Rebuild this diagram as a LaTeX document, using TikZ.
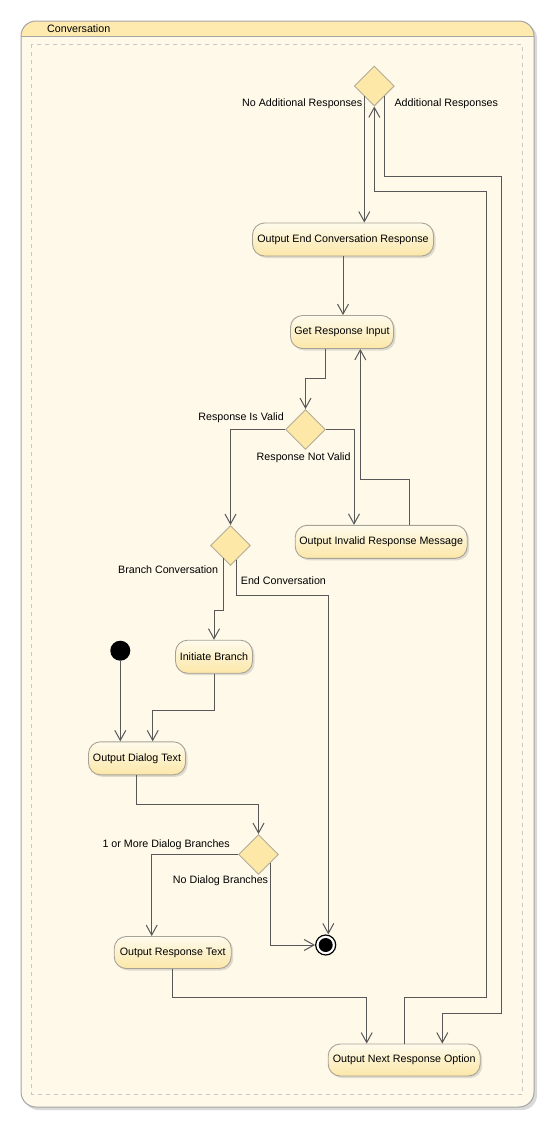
\documentclass[tikz,border=0pt]{standalone}
\usepackage{fontspec}
\setmainfont{Liberation Sans}
\usetikzlibrary{arrows.meta,shapes.geometric,shadows,calc}
\definecolor{lc}{HTML}{585858}
\definecolor{framebody}{HTML}{FEF9E9}
\definecolor{framehead}{HTML}{FEEAAE}
\definecolor{frameborder}{HTML}{A4A4A4}
\definecolor{dashline}{HTML}{C8C8C8}
\definecolor{nodetop}{HTML}{FEFBEC}
\definecolor{nodebot}{HTML}{FCE7A8}
\definecolor{nodeborder}{HTML}{A8A296}
\definecolor{decfill}{HTML}{FEE8A8}
\definecolor{decborder}{HTML}{B2AC98}
\tikzset{
  act/.style={rectangle, rounded corners=12pt, draw=nodeborder, line width=0.9pt,
    top color=nodetop, bottom color=nodebot, minimum height=33pt, inner sep=0pt,
    drop shadow={shadow xshift=2pt, shadow yshift=-2pt, opacity=0.25}},
  dec/.style={diamond, draw=decborder, fill=decfill, line width=0.9pt, minimum width=40pt,
    minimum height=40pt, inner sep=0pt, shape aspect=1},
  lbl/.style={inner sep=0pt, text=black},
  flow/.style={draw=lc, line width=1pt, -{Straight Barb[length=10pt,width=11pt]}},
}
\begin{document}
\begin{tikzpicture}[x=1pt,y=-1pt, font=\fontsize{10.7}{12}\selectfont]
\useasboundingbox (0,0) rectangle (556,1128);
% frame
\fill[black, opacity=0.15, rounded corners=15pt] (23.5,23.5) rectangle (537,1110);
\fill[framebody, rounded corners=15pt] (21,21) rectangle (534,1107);
\begin{scope}
  \clip[rounded corners=15pt] (21,21) rectangle (534,1107);
  \fill[framehead] (21,21) rectangle (534,36.7);
\end{scope}
\draw[frameborder, line width=1pt] (21,36.7) -- (534,36.7);
\draw[frameborder, line width=1pt, rounded corners=15pt] (21,21) rectangle (534,1107);
\draw[dashline, line width=0.8pt, dash pattern=on 4pt off 4pt] (31.5,44.3) rectangle (522.7,1094);
\node[lbl, anchor=west] (title) at (47,28.7) {Conversation};

% activities
\node[act, minimum width=181pt] (oecr) at (343,239.5) {Output End Conversation Response};
\node[act, minimum width=103pt] (gri) at (342,332) {Get Response Input};
\node[act, minimum width=172pt] (oirm) at (381.2,541.8) {Output Invalid Response Message};
\node[act, minimum width=77pt] (ib) at (214,656.7) {Initiate Branch};
\node[act, minimum width=97pt] (odt) at (137,758.3) {Output Dialog Text};
\node[act, minimum width=117pt, minimum height=32pt] (ort) at (172.7,952.5) {Output Response Text};
\node[act, minimum width=152pt, minimum height=32pt] (onro) at (404.2,1060) {Output Next Response Option};

% decisions
\node[dec] (d1) at (374.3,86) {};
\node[dec] (d2) at (305.5,429.5) {};
\node[dec] (d3) at (230.5,545.5) {};
\node[dec] (d4) at (258.5,854.5) {};

% start / end
\node[circle, fill=black, minimum size=20pt, inner sep=0pt] (start) at (120.3,650.7) {};
\node[circle, draw=black, fill=white, line width=1.2pt, minimum size=20pt, inner sep=0pt] (end) at (325.7,945) {};
\node[circle, fill=black, minimum size=14pt, inner sep=0pt] (endin) at (end.center) {};

% diamond edge points
\coordinate (d1a) at ([xshift=-10pt,yshift=-10pt]d1.center);
\coordinate (d1b) at ([xshift=10pt,yshift=-10pt]d1.center);
\coordinate (d3a) at ([xshift=-7.2pt,yshift=-12.8pt]d3.center);
\coordinate (d3b) at ([xshift=5.8pt,yshift=-14.2pt]d3.center);
\coordinate (d4b) at ([xshift=11.8pt,yshift=-8.2pt]d4.center);

% connectors
\draw[flow] (d1a) -- (d1a |- oecr.north);
\draw[flow] (d1b) |- (501.7,176) |- (442.3,1013.3) -- (onro.north -| 442.3,0);
\draw[flow] (onro.north) |- (486.7,997.3) |- (d1.south |- 0,191) -- (d1.south);
\draw[flow] (oecr.south) -- (oecr.south |- gri.north);
\draw[flow] (gri.south -| 325.7,0) |- (d2.north |- 0,378.3) -- (d2.north);
\draw[flow] (d2.west) -| (d3.north);
\draw[flow] (d2.east) -| (oirm.north -| 354,0);
\draw[flow] (oirm.north -| 409.3,0) |- (360.3,479.3) -- (gri.south -| 360.3,0);
\draw[flow] (d3a) |- (ib.north |- 0,610) -- (ib.north);
\draw[flow] (d3b) |- (328.3,595.3) -- (end.north -| 328.3,0);
\draw[flow] (start.south) -- (start.south |- odt.north);
\draw[flow] (ib.south) |- (152.7,710.3) -- (odt.north -| 152.7,0);
\draw[flow] (odt.south -| 136,0) |- (d4.north |- 0,804.3) -- (d4.north);
\draw[flow] (d4.west) -| (ort.north -| 151.7,0);
\draw[flow] (d4b) |- (end.west);
\draw[flow] (ort.south) |- (366.7,997.3) -- (onro.north -| 366.7,0);

% labels
\node[lbl, anchor=east] (l1) at (362.5,104) {No Additional Responses};
\node[lbl, anchor=west] (l2) at (394.3,104) {Additional Responses};
\node[lbl, anchor=east] (l3) at (284,417.3) {Response Is Valid};
\node[lbl, anchor=east] (l4) at (350.7,457.7) {Response Not Valid};
\node[lbl, anchor=east] (l5) at (218.3,570) {Branch Conversation};
\node[lbl, anchor=west] (l6) at (240.7,581) {End Conversation};
\node[lbl, anchor=east] (l7) at (230,845) {1 or More Dialog Branches};
\node[lbl, anchor=east] (l8) at (268.3,881) {No Dialog Branches};
\end{tikzpicture}
\end{document}
